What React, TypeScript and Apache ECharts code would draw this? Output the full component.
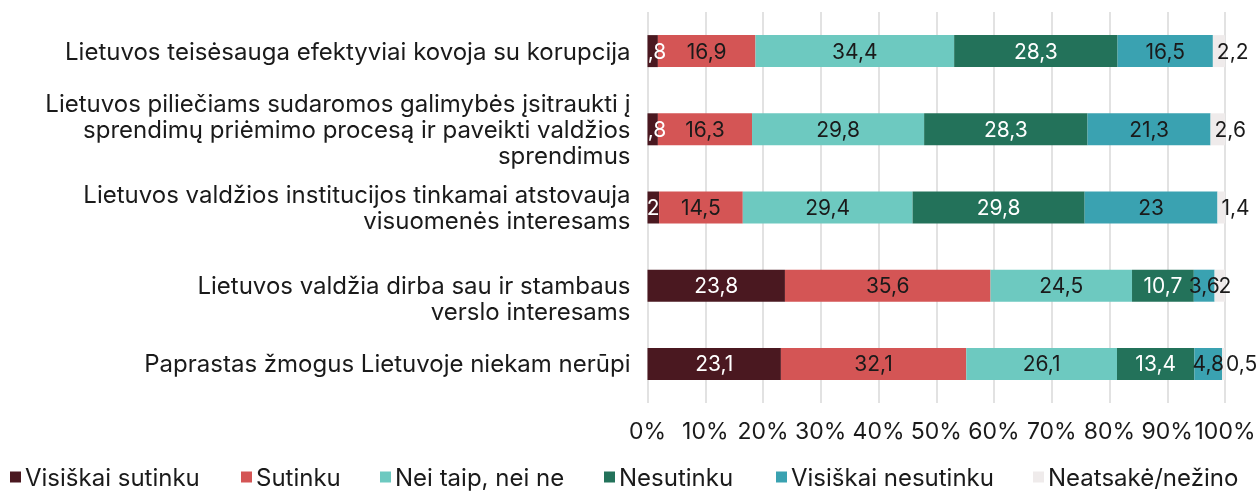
import React, { useEffect, useRef } from "react";
import * as echarts from "echarts";

const categories = [
  "Lietuvos teisėsauga efektyviai kovoja su korupcija",
  "Lietuvos piliečiams sudaromos galimybės įsitraukti į\nsprendimų priėmimo procesą ir paveikti valdžios\nsprendimus",
  "Lietuvos valdžios institucijos tinkamai atstovauja\nvisuomenės interesams",
  "\nLietuvos valdžia dirba sau ir stambaus\nverslo interesams",
  "Paprastas žmogus Lietuvoje niekam nerūpi",
];

const seriesNames = [
  "Visiškai sutinku",
  "Sutinku",
  "Nei taip, nei ne",
  "Nesutinku",
  "Visiškai nesutinku",
  "Neatsakė/nežino",
];

const visiskaiSutinku = [1.8, 1.8, 2, 23.8, 23.1];
const sutinku = [16.9, 16.3, 14.5, 35.6, 32.1];
const neiTaipNeiNe = [34.4, 29.8, 29.4, 24.5, 26.1];
const nesutinku = [28.3, 28.3, 29.8, 10.7, 13.4];
const visiskaiNesutinku = [16.5, 21.3, 23, 3.6, 4.8];
const neatsake = [2.2, 2.6, 1.4, 2, 0.5];

const xTicks = [0, 10, 20, 30, 40, 50, 60, 70, 80, 90, 100];

const seriesData = [visiskaiSutinku, sutinku, neiTaipNeiNe, nesutinku, visiskaiNesutinku, neatsake];
const colors = ["#4a1820", "#d45555", "#6dc9c0", "#23725a", "#3aa2b1", "#efebeb"];
const labelColors = ["#ffffff", "#1a1a1a", "#1a1a1a", "#ffffff", "#1a1a1a", "#1a1a1a"];
const legendLefts = [10, 241, 380, 604, 776, 1033];

const FONT = "Inter";

export default function App() {
  const ref = useRef<HTMLDivElement>(null);
  useEffect(() => {
    if (!ref.current) return;
    const chart = echarts.init(ref.current, null, { renderer: "svg" });
    const fmt = (v: number) => String(v).replace(".", ",");
    chart.setOption({
      animation: false,
      textStyle: { fontFamily: FONT },
      grid: { left: 647.5, right: 35, top: 12, bottom: 88, containLabel: false },
      xAxis: {
        type: "value",
        min: xTicks[0],
        max: xTicks[xTicks.length - 1],
        interval: 10,
        axisLine: { show: false },
        axisTick: { show: false },
        splitLine: { lineStyle: { color: "#d9d9d9", width: 1.5 } },
        axisLabel: {
          formatter: "{value}%",
          fontSize: 23,
          color: "#1a1a1a",
          margin: 16,
          fontFamily: FONT,
        },
      },
      yAxis: {
        type: "category",
        inverse: true,
        data: categories,
        axisLine: { show: false },
        axisTick: { show: false },
        axisLabel: {
          fontSize: 24,
          color: "#1a1a1a",
          margin: 17,
          lineHeight: 26,
          align: "right",
          fontFamily: FONT,
        },
      },
      legend: seriesNames.map((n, i) => ({
        data: [n],
        left: legendLefts[i],
        top: 465,
        icon: "rect",
        itemWidth: 11,
        itemHeight: 11,
        padding: 0,
        textStyle: {
          fontSize: 24,
          lineHeight: 24,
          color: "#1a1a1a",
          fontFamily: FONT,
          padding: [0, 0, 0, -1],
        },
      })),
      series: seriesNames.map((n, i) => ({
        name: n,
        type: "bar",
        stack: "total",
        barWidth: 32,
        itemStyle: { color: colors[i] },
        data: seriesData[i],
        label: {
          show: true,
          position: i === 5 ? "insideLeft" : "inside",
          distance: 4,
          color: labelColors[i],
          fontSize: 21,
          fontFamily: FONT,
          formatter: (p: any) => fmt(p.value),
        },
      })),
    });
    return () => chart.dispose();
  }, []);
  return (
    <div
      ref={ref}
      style={{ position: "fixed", left: 0, top: 0, width: 1260, height: 491 }}
    />
  );
}
